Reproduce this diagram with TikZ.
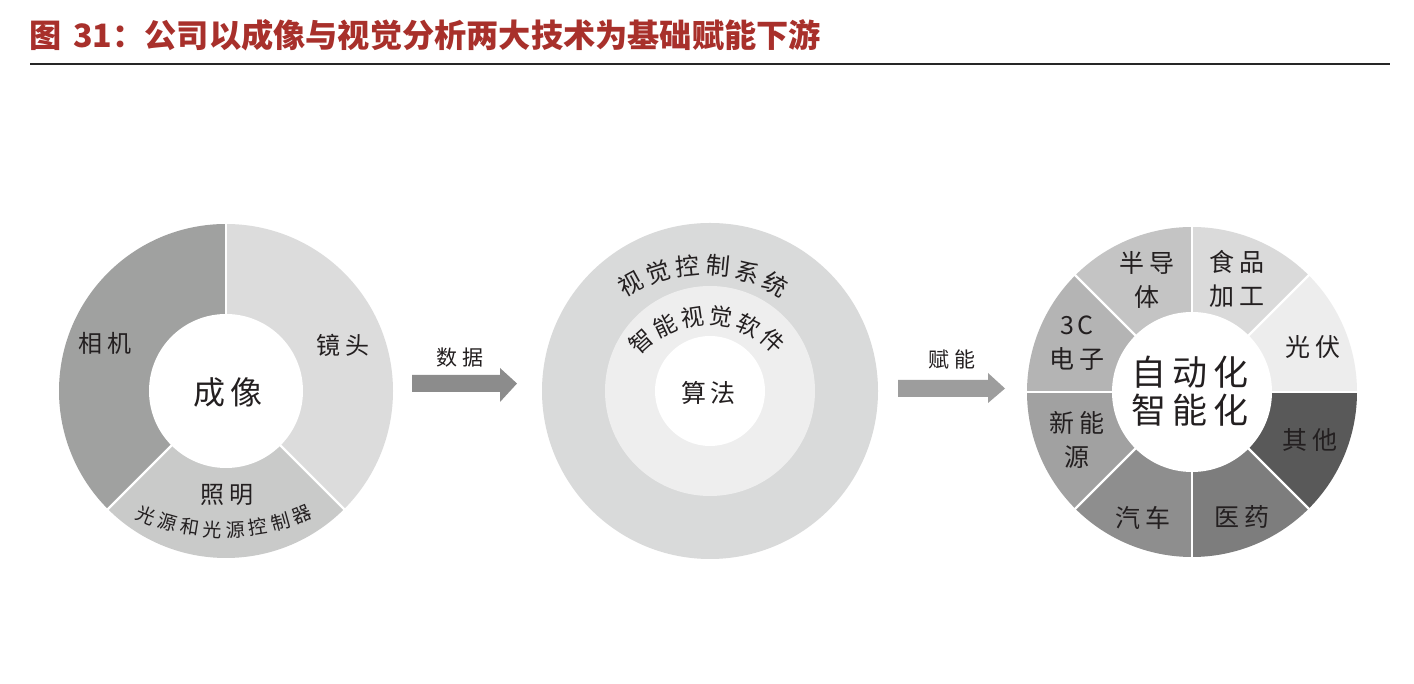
\documentclass[tikz,border=0pt]{standalone}
\usepackage{fontspec}
\usetikzlibrary{calc}
\setmainfont{Noto Sans CJK SC}
\definecolor{titlered}{HTML}{A8302B}
\definecolor{txtc}{HTML}{231F20}
\definecolor{camc}{HTML}{A0A1A0}
\definecolor{lensc}{HTML}{DCDCDC}
\definecolor{lightc}{HTML}{C9CAC9}
\definecolor{midouter}{HTML}{D9DADA}
\definecolor{midmid}{HTML}{EEEEEE}
\definecolor{rA}{HTML}{C4C4C4}
\definecolor{rB}{HTML}{DADADA}
\definecolor{rC}{HTML}{EDEDED}
\definecolor{rD}{HTML}{595959}
\definecolor{rE}{HTML}{7D7D7D}
\definecolor{rF}{HTML}{8E8E8E}
\definecolor{rG}{HTML}{A1A1A1}
\definecolor{rH}{HTML}{B4B4B4}
\definecolor{arrA}{HTML}{8C8C8C}
\definecolor{arrB}{HTML}{9D9D9D}
\begin{document}
\begin{tikzpicture}[x=1pt,y=1pt,
  txt/.style={text=txtc, inner sep=0pt, align=center, font=\fontsize{24}{34}\selectfont},
  big/.style={txt, font=\fontsize{32}{36}\selectfont},
  seg/.style={txt, font=\fontsize{25}{34}\selectfont},
  arctxt/.style={txt, font=\fontsize{24}{26}\selectfont},
  arctxtb/.style={txt, font=\fontsize{23}{25}\selectfont},
  smalltxt/.style={txt, font=\fontsize{19}{21}\selectfont},
  sep/.style={white, line width=2.2pt}]
\useasboundingbox (0,0) rectangle (1414,684);
\fill[white] (0,0) rectangle (1414,684);
% title
\node[anchor=west, inner sep=0pt, text=titlered, font=\fontsize{32.2}{34}\selectfont\bfseries] (title) at (29,649) {图\hspace{12pt}31：公司以成像与视觉分析两大技术为基础赋能下游};
\coordinate (ruleL) at (30,620);
\coordinate (ruleR) at (1390,620);
\draw[line width=1.6pt, black!85] (ruleL) -- (ruleR);
% ---------- left donut ----------
\coordinate (L) at (226,293);
\fill[camc] (L) -- ++(90:167) arc[start angle=90, end angle=225, radius=167] -- cycle;
\fill[lensc] (L) -- ++(-45:167) arc[start angle=-45, end angle=90, radius=167] -- cycle;
\fill[lightc] (L) -- ++(225:167) arc[start angle=225, end angle=315, radius=167] -- cycle;
\foreach \a in {90,225,315} \draw[sep] (L) -- ++(\a:168);
\fill[white] (L) circle (77);
\node[txt] (cam) at (105,341) {相\hspace{5pt}机};
\node[txt] (lens) at (343,339) {镜\hspace{5pt}头};
\node[big] (img) at (228,292) {成\hspace{5pt}像};
\node[txt] (light) at (227,189) {照\hspace{5pt}明};
\coordinate (LA) at (224,364);
\foreach \c [count=\i from 0] in {光,源,和,光,源,控,制,器}{
  \pgfmathsetmacro{\ang}{248.2+\i*6.23}
  \node[smalltxt, rotate=\ang+90] (la\i) at ($(LA)+(\ang:210)$) {\c};
}
% ---------- middle ----------
\coordinate (M) at (710,293);
\fill[midouter] (M) circle (168);
\fill[midmid] (M) circle (105);
\fill[white] (M) circle (55);
\coordinate (MA) at (703,269);
\foreach \c [count=\i from 0] in {视,觉,控,制,系,统}{
  \pgfmathsetmacro{\ang}{119-\i*11.6}
  \node[arctxt, rotate=\ang-90] (ma\i) at ($(MA)+(\ang:150)$) {\c};
}
\coordinate (MB) at (707,270);
\foreach \c [count=\i from 0] in {智,能,视,觉,软,件}{
  \pgfmathsetmacro{\ang}{132-\i*16.8}
  \node[arctxtb, rotate=\ang-90] (mb\i) at ($(MB)+(\ang:98)$) {\c};
}
\node[txt, font=\fontsize{25}{28}\selectfont] (algo) at (708,291) {算\hspace{4pt}法};
% ---------- right donut ----------
\coordinate (R) at (1192,292);
\foreach \s/\e/\col in {90/135/rA, 45/90/rB, 0/45/rC, -45/0/rD, -90/-45/rE, -135/-90/rF, 180/225/rG, 135/180/rH}{
  \fill[\col] (R) -- ++(\s:165) arc[start angle=\s, end angle=\e, radius=165] -- cycle;
}
\foreach \a in {0,45,...,315} \draw[sep] (R) -- ++(\a:166);
\fill[white] (R) circle (80);
\node[seg] (semi) at (1147,404) {半\hspace{5pt}导\\体};
\node[seg] (food) at (1237,405) {食\hspace{5pt}品\\加\hspace{5pt}工};
\node[seg] (pv) at (1313,337) {光\hspace{5pt}伏};
\node[seg] (other) at (1310,244) {其\hspace{5pt}他};
\node[seg] (med) at (1242,167) {医\hspace{5pt}药};
\node[seg] (auto) at (1143,166) {汽\hspace{5pt}车};
\node[seg] (ne) at (1077,244) {新\hspace{5pt}能\\源};
\node[seg] (cc) at (1077,341) {3\hspace{3pt}C\\电\hspace{5pt}子};
\node[txt, font=\fontsize{35}{38}\selectfont] (center) at (1190,293) {自\hspace{6pt}动\hspace{6pt}化\\智\hspace{6pt}能\hspace{6pt}化};
% ---------- arrows ----------
\fill[arrA] (412,309) -- (500,309) -- (500,316) -- (517,300.5) -- (500,282) -- (500,292) -- (412,292) -- cycle;
\node[txt, font=\fontsize{21}{24}\selectfont] (data) at (460,326) {数\hspace{6pt}据};
\fill[arrB] (898,304) -- (988,304) -- (988,311) -- (1005,295.5) -- (988,281) -- (988,287) -- (898,287) -- cycle;
\node[txt, font=\fontsize{21}{24}\selectfont] (enable) at (952,324) {赋\hspace{6pt}能};
\end{tikzpicture}
\end{document}
